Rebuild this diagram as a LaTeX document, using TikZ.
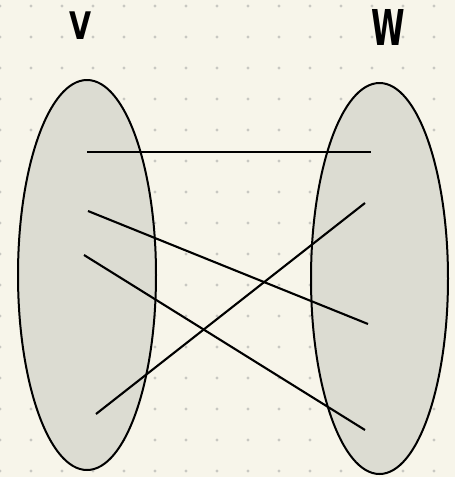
\documentclass[tikz,border=0pt]{standalone}
\usepackage{fontspec}
\setmainfont{DejaVu Sans}
\usetikzlibrary{shapes.geometric}
\definecolor{paper}{HTML}{F7F5EA}
\definecolor{setfill}{HTML}{DCDCD2}
\definecolor{griddot}{HTML}{C8C8C2}
\begin{document}
\begin{tikzpicture}[x=1pt,y=-1pt,
  setshape/.style={ellipse, draw=black, fill=setfill, line width=2pt, inner sep=0pt},
  edge/.style={draw=black, line width=2.1pt},
  lbl/.style={font=\fontsize{38}{40}\selectfont\bfseries, text=black, inner sep=0pt}]
\fill[paper] (0,0) rectangle (455,477);
\useasboundingbox (0,0) rectangle (455,477);
\foreach \i in {0,...,14}{
  \foreach \j in {0,...,15}{
    \fill[griddot] (31*\i,6+31*\j) circle (1.6);
  }
}
\node[setshape, minimum width=138pt, minimum height=390pt] (V) at (87,275) {};
\node[setshape, minimum width=137pt, minimum height=391pt] (W) at (379.5,278.5) {};
\node[lbl, xscale=0.75, yscale=1.0] (Vl) at (81,26) {V};
\node[lbl, xscale=0.8, yscale=1.3] (Wl) at (388,27) {W};
\coordinate (v1) at (87,152);
\coordinate (v2) at (88,211);
\coordinate (v3) at (84,255);
\coordinate (v4) at (96,414);
\coordinate (w1) at (371,152);
\coordinate (w2) at (368,324);
\coordinate (w3) at (365,430);
\coordinate (w4) at (365,203);
\draw[edge] (v1) -- (w1);
\draw[edge] (v2) -- (w2);
\draw[edge] (v3) -- (w3);
\draw[edge] (v4) -- (w4);
\end{tikzpicture}
\end{document}
